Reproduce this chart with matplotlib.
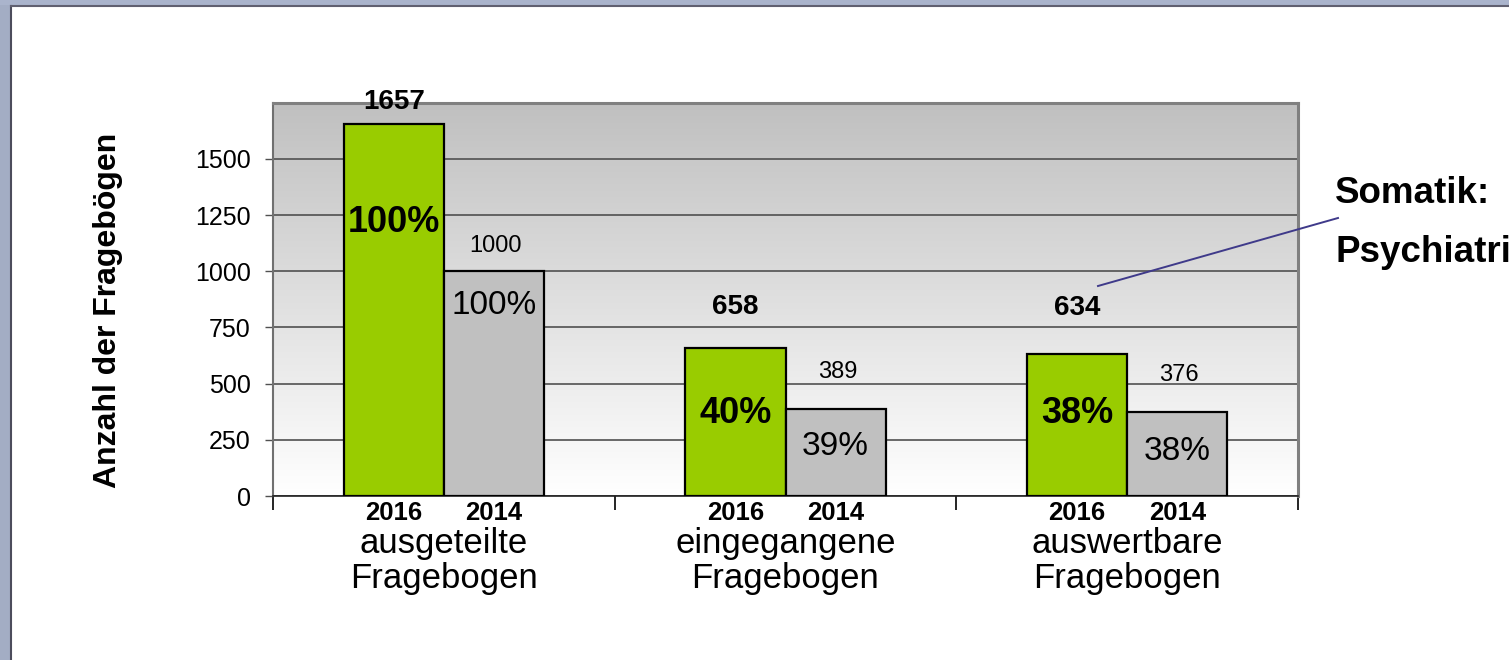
import matplotlib
matplotlib.use("Agg")
import matplotlib.pyplot as plt
import numpy as np
from matplotlib.patches import Rectangle
from matplotlib.lines import Line2D
from matplotlib.colors import LinearSegmentedColormap

plt.rcParams['font.family'] = ['Liberation Sans', 'DejaVu Sans']

# ---- data ----
categories = ["ausgeteilte\nFragebogen", "eingegangene\nFragebogen", "auswertbare\nFragebogen"]
years = ["2016", "2014"]
values_2016 = [1657, 658, 634]
values_2014 = [1000, 389, 376]
y_ticks = [0, 250, 500, 750, 1000, 1250, 1500]
y_label = "Anzahl der Fragebögen"
note_lines = ["Somatik:", "Psychiatri"]

# ---- styling ----
W, H, DPI = 1509, 660, 100
green = "#99cc00"
grey = "#c0c0c0"
bar_w = 0.293
# label offsets in pixels (above bar top / below bar top)
top_off_16 = [22, 41, 46]
top_off_14 = [25, 37, 37]
pct_off_16 = [99, 65, 60]
pct_off_14 = [34, 38, 40]

fig = plt.figure(figsize=(W / DPI, H / DPI), dpi=DPI)
fig.patch.set_facecolor("white")

# frame strips
fig.add_artist(Rectangle((0, 0), 10 / W, 1, transform=fig.transFigure, facecolor="#a3adc4", edgecolor="none", zorder=-5))
fig.add_artist(Rectangle((0, 1 - 5 / H), 1, 5 / H, transform=fig.transFigure, facecolor="#aab4cc", edgecolor="none", zorder=-5))
fig.add_artist(Line2D([10.5 / W, 10.5 / W], [0, 1 - 5.5 / H], transform=fig.transFigure, color="#4c4c5c", lw=1.5))
fig.add_artist(Line2D([10.5 / W, 1], [1 - 5.5 / H, 1 - 5.5 / H], transform=fig.transFigure, color="#606070", lw=1.5))

left, right, top, bottom = 273, 1298, 103, 496
ax = fig.add_axes([left / W, 1 - bottom / H, (right - left) / W, (bottom - top) / H])

x = np.arange(len(categories))
ymax = 1749
ax.set_xlim(-0.5, len(categories) - 0.5)
ax.set_ylim(0, ymax)

# gradient background
cmap = LinearSegmentedColormap.from_list("bg", ["#ffffff", "#c0c0c0"])
grad = np.linspace(0, 1, 256).reshape(-1, 1)
ax.imshow(grad, cmap=cmap, aspect="auto", extent=[-0.5, len(categories) - 0.5, 0, ymax],
          origin="lower", zorder=-2)

ax.set_axisbelow(True)
ax.yaxis.grid(True, color="#505050", lw=1.2)
ax.set_yticks(y_ticks)
ax.set_yticklabels([str(v) for v in y_ticks], fontsize=18)
ax.tick_params(axis="y", direction="out", length=6, width=1, color="#505050", pad=10)
ax.set_xticks(np.arange(-0.5, len(categories), 1.0))
ax.set_xticklabels([])
ax.tick_params(axis="x", direction="out", length=10, width=1.2, color="black")

for s in ["top", "right"]:
    ax.spines[s].set_color("#808080")
    ax.spines[s].set_linewidth(2.2)
ax.spines["left"].set_color("#707070")
ax.spines["left"].set_linewidth(1.5)
ax.spines["bottom"].set_color("#202020")
ax.spines["bottom"].set_linewidth(1.2)

b16 = ax.bar(x - bar_w / 2, values_2016, width=bar_w, color=green, edgecolor="black", linewidth=1.6, zorder=3)
b14 = ax.bar(x + bar_w / 2, values_2014, width=bar_w, color=grey, edgecolor="black", linewidth=1.6, zorder=3)

for i in range(len(categories)):
    v16, v14 = values_2016[i], values_2014[i]
    p16 = f"{round(100 * v16 / values_2016[0])}%"
    p14 = f"{round(100 * v14 / values_2014[0])}%"
    ax.annotate(str(v16), (x[i] - bar_w / 2, v16), xytext=(0, top_off_16[i]), textcoords="offset pixels",
                ha="center", va="center", fontsize=20, fontweight="bold", zorder=5)
    ax.annotate(str(v14), (x[i] + bar_w / 2, v14), xytext=(2, top_off_14[i]), textcoords="offset pixels",
                ha="center", va="center", fontsize=17, zorder=5)
    ax.annotate(p16, (x[i] - bar_w / 2, v16), xytext=(0, -pct_off_16[i]), textcoords="offset pixels",
                ha="center", va="center", fontsize=26, fontweight="bold", zorder=5)
    ax.annotate(p14, (x[i] + bar_w / 2, v14), xytext=(0, -pct_off_14[i]), textcoords="offset pixels",
                ha="center", va="center", fontsize=24, zorder=5)
    for j, yr in enumerate(years):
        xo = x[i] + (j - 0.5) * bar_w
        ax.annotate(yr, (xo, 0), xycoords=("data", "axes fraction"), xytext=(0, -17), textcoords="offset pixels",
                    ha="center", va="center", fontsize=18.5, fontweight="bold", annotation_clip=False)
    ax.annotate(categories[i], (x[i], 0), xycoords=("data", "axes fraction"), xytext=(0, -65),
                textcoords="offset pixels", ha="center", va="center", fontsize=25, linespacing=1.06,
                annotation_clip=False)

fig.text(108 / W, 1 - 310 / H, y_label, rotation=90, ha="center", va="center", fontsize=23, fontweight="bold")

# note with connector line
fig.add_artist(Line2D([1098 / W, 1338 / W], [1 - 286 / H, 1 - 218 / H], transform=fig.transFigure,
                      color="#3f3a8a", lw=1.4))
fig.text(1335 / W, 1 - 193 / H, note_lines[0], ha="left", va="center", fontsize=26.5, fontweight="bold")
fig.text(1335 / W, 1 - 253 / H, note_lines[1], ha="left", va="center", fontsize=26.5, fontweight="bold")

fig.savefig("out.png", dpi=DPI)
